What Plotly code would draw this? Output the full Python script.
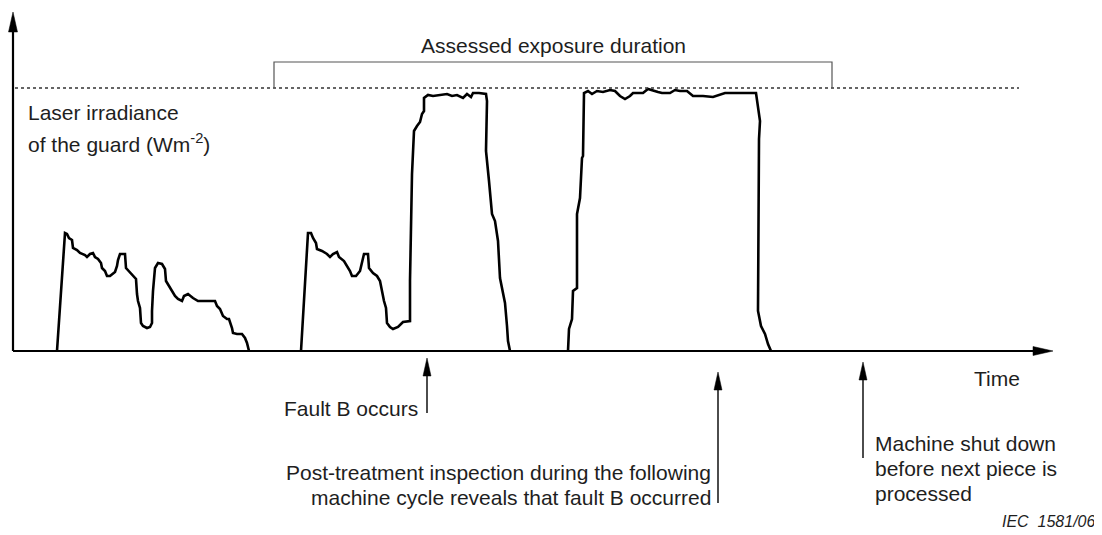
import plotly.graph_objects as go

# ---- data (time and irradiance in arbitrary units) ----
pulse1_time = [44, 52, 54, 56, 59, 60, 64, 67, 72, 74, 77, 80, 82, 85, 88, 89, 92, 94, 97, 100,
               102, 104, 105, 107, 112, 113, 115, 119, 123, 124, 125, 127, 128, 130, 134, 137, 139, 139, 140, 142,
               145, 149, 152, 153, 156, 159, 162, 165, 169, 171, 175, 180, 185, 202, 204, 207, 210, 214, 216, 219,
               220, 224, 229, 232, 234, 236]
pulse1_level = [0, 118, 117, 113, 111, 103, 101, 98, 96, 94, 97, 98, 94, 92, 88, 83, 80, 75, 75, 77,
                79, 85, 91, 97, 97, 83, 81, 77, 72, 57, 50, 43, 28, 25, 23, 24, 28, 40, 60, 83,
                88, 87, 82, 70, 65, 60, 55, 52, 50, 55, 57, 53, 50, 50, 45, 42, 35, 32, 32, 23,
                18, 17, 17, 13, 8, 0]

pulse2_time = [288, 295, 298, 300, 303, 304, 309, 314, 317, 320, 324, 326, 331, 334, 337, 339, 343, 347, 349, 351,
               355, 356, 360, 364, 367, 369, 371, 373, 374, 377, 380, 385, 390, 397, 397, 399, 401, 404, 407, 409,
               411, 411, 415, 420, 427, 434, 439, 444, 450, 454, 458, 460, 466, 473, 474, 473, 476, 479, 482, 485,
               487, 490, 492, 494, 495, 497]
pulse2_level = [0, 118, 118, 113, 108, 102, 100, 97, 94, 97, 99, 94, 90, 85, 80, 75, 75, 80, 90, 97,
                97, 83, 78, 75, 70, 58, 50, 43, 28, 24, 22, 24, 29, 30, 70, 177, 220, 225, 229, 237,
                240, 253, 256, 255, 256, 257, 255, 256, 253, 257, 254, 258, 258, 257, 250, 200, 170, 137, 130, 110,
                73, 60, 48, 25, 10, 0]

pulse3_time = [555, 556, 559, 560, 564, 564, 567, 569, 570, 571, 575, 579, 584, 590, 597, 602, 607, 612, 617, 620,
               630, 635, 645, 649, 657, 662, 667, 674, 680, 690, 700, 707, 712, 743, 744, 747, 746, 745, 748, 752,
               755, 758]
pulse3_level = [0, 22, 32, 60, 63, 137, 153, 193, 195, 258, 260, 257, 260, 259, 261, 260, 255, 252, 255, 258,
                258, 262, 259, 258, 258, 261, 260, 260, 255, 255, 254, 256, 258, 258, 250, 230, 212, 40, 25, 17,
                7, 0]

limit_level = 263
assessed_start, assessed_end = 261, 819
fault_time = 414
inspection_time = 705
shutdown_time = 850

# ---- figure scaffolding ----
# the page body has an 8px margin, so the figure is drawn 8px in from the top-left corner
X_MIN, X_MAX = -5, 1089
Y_MIN, Y_MAX = -184, 343
X_AXIS_END = 1040
Y_AXIS_END = 339

FONT = "Liberation Sans, Arial, sans-serif"
TXT = "#1e1e1e"

fig = go.Figure()

for tt, vv in [(pulse1_time, pulse1_level), (pulse2_time, pulse2_level), (pulse3_time, pulse3_level)]:
    fig.add_trace(go.Scatter(x=tt, y=vv, mode="lines",
                             line=dict(color="black", width=2.6), hoverinfo="skip"))

shapes = []


def line(x0, y0, x1, y1, width, color="black", dash=None):
    d = dict(type="line", xref="x", yref="y", x0=x0, y0=y0, x1=x1, y1=y1,
             line=dict(color=color, width=width))
    if dash:
        d["line"]["dash"] = dash
    shapes.append(d)


def head(tx, ty, dx, dy, length, half):
    n = (dx * dx + dy * dy) ** 0.5
    ux, uy = dx / n, dy / n
    bx, by = tx - ux * length, ty - uy * length
    px, py = -uy * half, ux * half
    path = f"M{tx},{ty} L{bx + px},{by + py} L{bx - px},{by - py} Z"
    shapes.append(dict(type="path", xref="x", yref="y", path=path,
                       fillcolor="black", line=dict(color="black", width=0.5)))


# axes
line(0, 0, X_AXIS_END - 12, 0, 2.2)
head(X_AXIS_END, 0, 1, 0, 20, 4.5)
line(0, 0, 0, Y_AXIS_END - 12, 2.2)
head(0, Y_AXIS_END, 0, 1, 20, 4.5)

# limit (dotted)
line(2, limit_level, 1006, limit_level, 1.3, color="#333333", dash="dot")

# bracket for assessed exposure duration
bracket_top = limit_level + 26
shapes.append(dict(type="path", xref="x", yref="y",
                   path=f"M{assessed_start},{limit_level} L{assessed_start},{bracket_top} "
                        f"L{assessed_end},{bracket_top} L{assessed_end},{limit_level}",
                   line=dict(color="#555555", width=1.2)))

# event arrows
for t_evt, tail, tip in [(fault_time, -62, -7), (inspection_time, -152, -21), (shutdown_time, -107, -11)]:
    line(t_evt, tail, t_evt, tip - 10, 1.4)
    head(t_evt, tip, 0, 1, 18, 4)

annotations = []


def text(x, y, s, xanchor="left", size=21, italic=False):
    st = "italic" if italic else "normal"
    annotations.append(dict(x=x, y=y, xref="x", yref="y", text=s, showarrow=False,
                            xanchor=xanchor, yanchor="middle",
                            font=dict(family=FONT, size=size, color=TXT, style=st)))


text((assessed_start + assessed_end) / 2, 306, "Assessed exposure duration", xanchor="center")
text(13, 239, "Laser irradiance")
text(13, 208, "of the guard (Wm<sup>-2</sup>)")
text(fault_time - 7, -57, "Fault B occurs", xanchor="right")
text(inspection_time - 5, -121, "Post-treatment inspection during the following", xanchor="right")
text(inspection_time - 5, -146, "machine cycle reveals that fault B occurred", xanchor="right")
text(959, -27, "Time")
text(shutdown_time + 10, -92, "Machine shut down")
text(shutdown_time + 10, -117, "before next piece is")
text(shutdown_time + 10, -142, "processed")
text(1085, -170, "IEC\u00a0\u00a01581/06", xanchor="right", size=16, italic=True)

fig.update_layout(
    width=1094, height=527,
    margin=dict(l=0, r=0, t=0, b=0),
    paper_bgcolor="white", plot_bgcolor="white",
    showlegend=False,
    xaxis=dict(range=[X_MIN, X_MAX], visible=False, fixedrange=True),
    yaxis=dict(range=[Y_MIN, Y_MAX], visible=False, fixedrange=True),
    shapes=shapes,
    annotations=annotations,
)

fig.write_html("out.html")
